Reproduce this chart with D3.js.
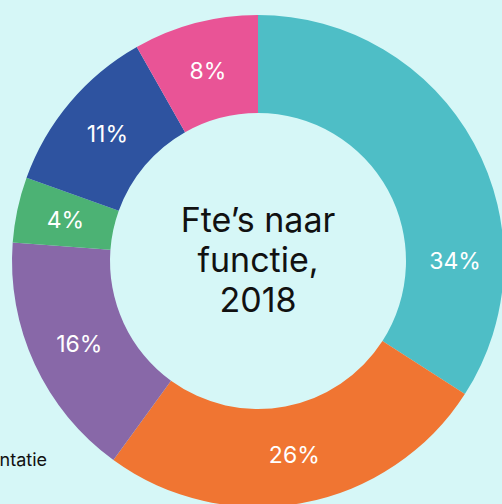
<!DOCTYPE html>
<html>
<head>
<meta charset="utf-8">
<script src="https://cdn.jsdelivr.net/npm/d3@7"></script>
<style>
  html, body { margin: 0; padding: 0; background: #d6f7f7; }
  svg { display: block; font-family: Inter, "Noto Sans", sans-serif; }
</style>
</head>
<body>
<svg width="502" height="504"></svg>
<script>
// share per function (percent), clockwise from the top
var categories = ['A', 'B', 'C', 'D', 'E', 'F'];
var values = [34.1, 25.9, 16.2, 4.3, 11.3, 8.2];
var colors = ['#4ebec6', '#f07532', '#8868a8', '#4cb274', '#2e53a0', '#e95496'];

var svg = d3.select("svg"),
    width = +svg.attr("width"),
    height = +svg.attr("height"),
    cx = 258, cy = 261,
    outer = 246, inner = 148;

var g = svg.append("g").attr("transform", "translate(" + cx + "," + cy + ")");

var color = d3.scaleOrdinal().domain(categories).range(colors);

var pie = d3.pie()
    .value(function(d, i) { return values[i]; })
    .sort(null);

var arc = d3.arc()
    .innerRadius(inner)
    .outerRadius(outer);

var arcs = g.selectAll(".arc")
    .data(pie(categories))
    .enter().append("g")
    .attr("class", "arc");

arcs.append("path")
    .attr("d", arc)
    .attr("fill", function(d) { return color(d.data); });

// labels sit in the middle of the ring; the big first slice has its label on the horizontal midline
arcs.append("text")
    .attr("transform", function(d, i) {
        var a = i === 0 ? Math.PI / 2 : (d.startAngle + d.endAngle) / 2,
            r = (inner + outer) / 2;
        return "translate(" + (r * Math.sin(a)) + "," + (-r * Math.cos(a)) + ")";
    })
    .attr("text-anchor", "middle")
    .attr("dy", "0.36em")
    .attr("fill", "#fff")
    .style("font-size", "23px")
    .text(function(d) { return Math.round(d.value) + "%"; });

// title in the hole
var title = ["Fte\u2019s naar", "functie,", "2018"];
g.append("text")
    .attr("text-anchor", "middle")
    .attr("fill", "#111")
    .style("font-size", "34px")
    .selectAll("tspan")
    .data(title)
    .enter().append("tspan")
    .attr("x", 0)
    .attr("y", function(d, i) { return -29 + i * 40; })
    .text(function(d) { return d; });

// leftover legend entry, cut off at the left edge
svg.append("text")
    .attr("x", 47)
    .attr("y", 466)
    .attr("text-anchor", "end")
    .attr("fill", "#111")
    .style("font-size", "18px")
    .text("Implementatie");
</script>
</body>
</html>
